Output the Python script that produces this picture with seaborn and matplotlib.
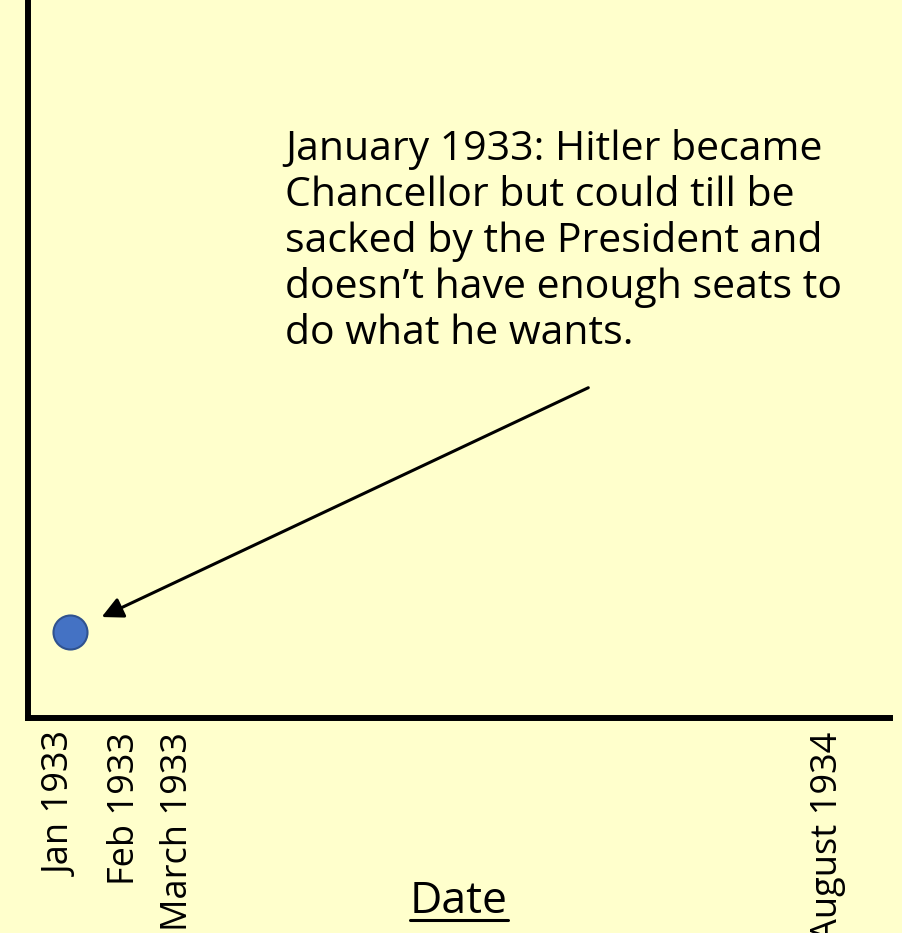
"""
Timeline chart: Hitler becomes Chancellor.
"""

import pandas as pd
import matplotlib as mpl
import matplotlib.pyplot as plt
from matplotlib.lines import Line2D
import seaborn as sns

# Data
event_dates = ['Jan 1933']
event_x = [4.9]
event_y = [12]
tick_labels = ['Jan 1933', 'Feb 1933', 'March 1933', 'August 1934']
tick_pos = [3.9, 11.25, 17.4, 92.8]
note = ("January 1933: Hitler became\nChancellor but could till be\n"
        "sacked by the President and\ndoesn\u2019t have enough seats to\n"
        "do what he wants.")

bg = '#FFFFCC'
sns.set_theme(style='white')
plt.rcParams['font.family'] = ['Open Sans', 'DejaVu Sans']

df = pd.DataFrame({'date': event_dates, 'x': event_x, 'y': event_y})

fig = plt.figure(figsize=(9.02, 9.33), dpi=100, facecolor=bg)
ax = fig.add_axes([28 / 902, 215 / 933, 862 / 902, 718 / 933])
ax.set_facecolor(bg)

sns.scatterplot(data=df, x='x', y='y', ax=ax, s=600, color='#4472C4',
                edgecolor='#2F528F', linewidth=1.5, zorder=3)

ax.set_xlim(0, 100)
ax.set_ylim(0, 100)

# Spines
for side in ['top', 'right']:
    ax.spines[side].set_visible(False)
for side in ['left', 'bottom']:
    ax.spines[side].set_linewidth(4.3)
    ax.spines[side].set_color('black')

ax.set_yticks([])
ax.set_xticks(tick_pos)
ax.set_xticklabels(tick_labels, rotation=90, fontsize=26, color='black')
ax.tick_params(axis='x', length=0, pad=10)

ax.set_xlabel('Date', fontsize=32, color='black')
ax.xaxis.set_label_coords(0.5, -0.225)
ax.set_ylabel('')

# Annotation
ax.text(0.298, 0.82, note, transform=ax.transAxes, fontsize=29.5,
        va='top', ha='left', linespacing=1.17, color='black')
ax.annotate('', xy=(event_x[0], event_y[0]), xycoords='data',
            xytext=(0.65, 0.46), textcoords='axes fraction',
            arrowprops=dict(arrowstyle='-|>', color='black', lw=2.2,
                            mutation_scale=32, shrinkA=0, shrinkB=25))

# Underline the axis label
fig.canvas.draw()
bb = ax.xaxis.label.get_window_extent().transformed(fig.transFigure.inverted())
fig.add_artist(Line2D([bb.x0, bb.x1], [bb.y0 + 0.004, bb.y0 + 0.004],
                      color='black', lw=2.2, transform=fig.transFigure))

fig.savefig('out.png', dpi=100, facecolor=bg)
